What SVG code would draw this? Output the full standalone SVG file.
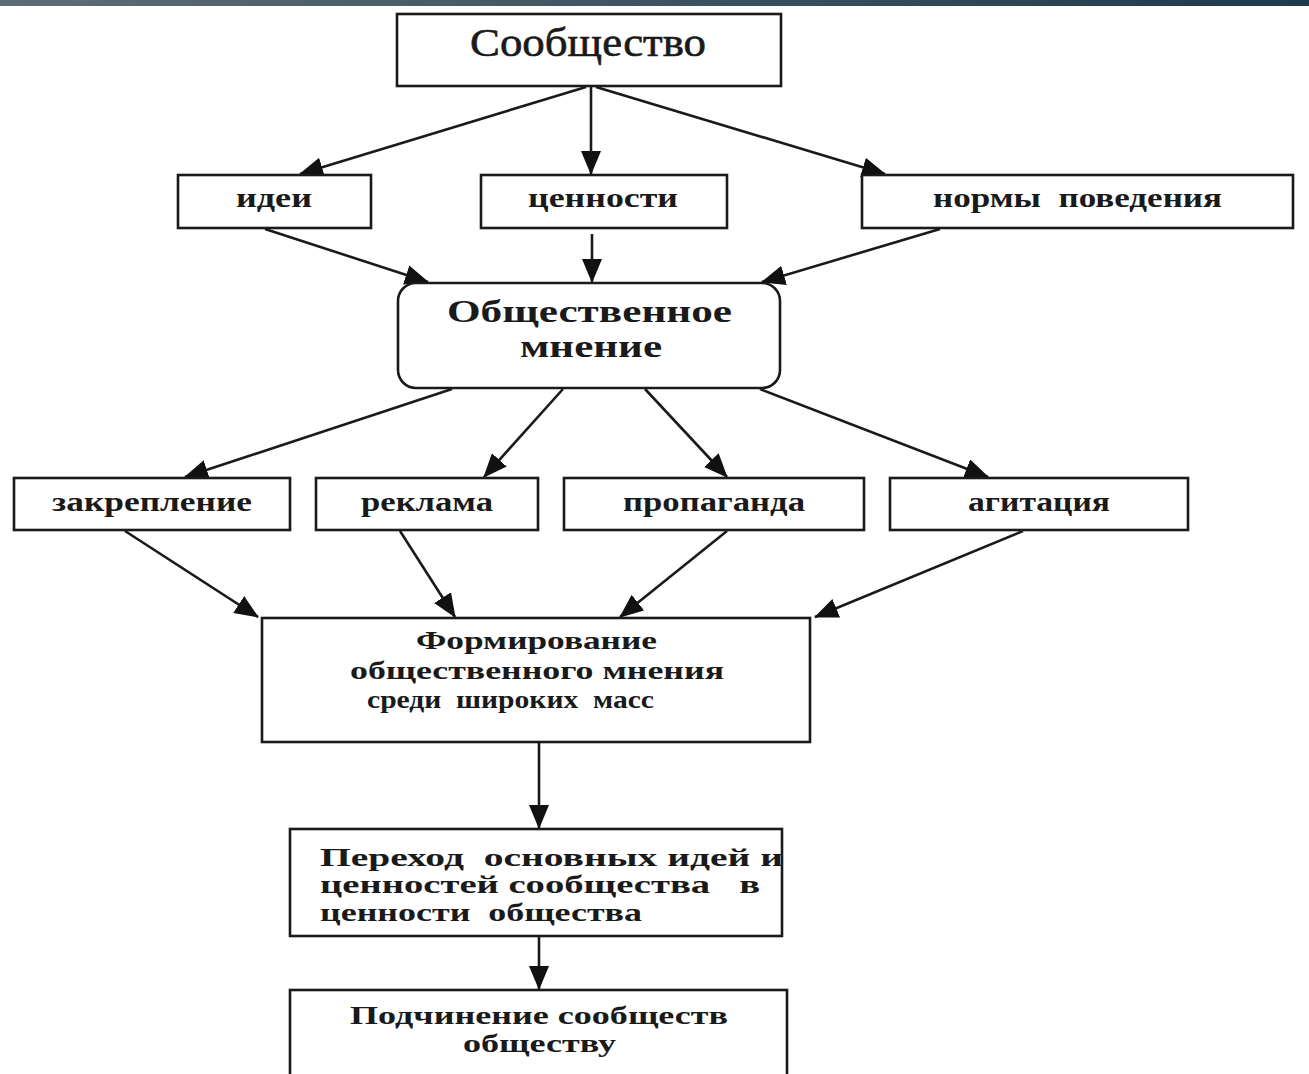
<svg xmlns="http://www.w3.org/2000/svg" width="1309" height="1074" viewBox="0 0 1309 1074">
<defs>
<linearGradient id="bar" x1="0" y1="0" x2="1" y2="0">
<stop offset="0" stop-color="#5d6d78"/>
<stop offset="1" stop-color="#1d3a4b"/>
</linearGradient>
<marker id="ah" markerUnits="userSpaceOnUse" markerWidth="24" markerHeight="20" viewBox="0 0 24 20" refX="23" refY="10" orient="auto">
<path d="M0,0 L24,10 L0,20 Z" fill="#111"/>
</marker>
<style>
.box{fill:#fff;stroke:#1a1a1a;stroke-width:2.6}
.t{fill:#1a1a1a;white-space:pre}
.c{stroke:#1a1a1a;stroke-width:2.6;fill:none;marker-end:url(#ah)}
</style>
</defs>
<rect x="0" y="0" width="1309" height="1074" fill="#fff"/>
<rect x="0" y="0" width="1309" height="6" fill="url(#bar)"/>

<g id="connectors">
<line class="c" x1="586" y1="87" x2="300" y2="174"/>
<line class="c" x1="591" y1="87" x2="591" y2="174"/>
<line class="c" x1="596" y1="87" x2="885" y2="174"/>
<line class="c" x1="265" y1="229" x2="428" y2="282"/>
<line class="c" x1="592" y1="234" x2="592" y2="282"/>
<line class="c" x1="940" y1="229" x2="762" y2="282"/>
<line class="c" x1="452" y1="389" x2="185" y2="477"/>
<line class="c" x1="563" y1="389" x2="484" y2="477"/>
<line class="c" x1="645" y1="389" x2="727" y2="477"/>
<line class="c" x1="760" y1="389" x2="988" y2="477"/>
<line class="c" x1="125" y1="531" x2="258" y2="617"/>
<line class="c" x1="400" y1="531" x2="455" y2="617"/>
<line class="c" x1="727" y1="531" x2="620" y2="617"/>
<line class="c" x1="1023" y1="531" x2="815" y2="617"/>
<line class="c" x1="539" y1="743" x2="539" y2="828"/>
<line class="c" x1="539" y1="937" x2="539" y2="989"/>
</g>

<g id="nodes" font-family="Liberation Serif, Times New Roman, serif" font-weight="bold">
<g id="n-soobshchestvo">
<rect class="box" x="397" y="14" width="384" height="72"/>
<text class="t" x="470" y="56" font-size="40" font-weight="normal" stroke="#1a1a1a" stroke-width="0.6" textLength="236" lengthAdjust="spacingAndGlyphs">Сообщество</text>
</g>
<g id="n-idei">
<rect class="box" x="178" y="175" width="193" height="53"/>
<text class="t" x="236" y="207" font-size="28" textLength="76" lengthAdjust="spacingAndGlyphs">идеи</text>
</g>
<g id="n-tsennosti">
<rect class="box" x="481" y="175" width="246" height="53"/>
<text class="t" x="528" y="207" font-size="28" textLength="150" lengthAdjust="spacingAndGlyphs">ценности</text>
</g>
<g id="n-normy">
<rect class="box" x="862" y="175" width="431" height="53"/>
<text class="t" x="933" y="207" font-size="28" textLength="289" lengthAdjust="spacingAndGlyphs" xml:space="preserve">нормы  поведения</text>
</g>
<g id="n-obshch-mnenie">
<rect class="box" x="398" y="283" width="382" height="105" rx="18" ry="18"/>
<text class="t" x="447" y="322" font-size="31" textLength="285" lengthAdjust="spacingAndGlyphs">Общественное</text>
<text class="t" x="520" y="357" font-size="31" textLength="142" lengthAdjust="spacingAndGlyphs">мнение</text>
</g>
<g id="n-zakreplenie">
<rect class="box" x="14" y="478" width="276" height="52"/>
<text class="t" x="52" y="511" font-size="28" textLength="200" lengthAdjust="spacingAndGlyphs">закрепление</text>
</g>
<g id="n-reklama">
<rect class="box" x="316" y="478" width="222" height="52"/>
<text class="t" x="361" y="511" font-size="28" textLength="132" lengthAdjust="spacingAndGlyphs">реклама</text>
</g>
<g id="n-propaganda">
<rect class="box" x="564" y="478" width="300" height="52"/>
<text class="t" x="623" y="511" font-size="28" textLength="182" lengthAdjust="spacingAndGlyphs">пропаганда</text>
</g>
<g id="n-agitatsiya">
<rect class="box" x="890" y="478" width="298" height="52"/>
<text class="t" x="968" y="511" font-size="28" textLength="142" lengthAdjust="spacingAndGlyphs">агитация</text>
</g>
<g id="n-formirovanie">
<rect class="box" x="262" y="618" width="548" height="124"/>
<text class="t" x="416" y="649" font-size="26" textLength="241" lengthAdjust="spacingAndGlyphs">Формирование</text>
<text class="t" x="350" y="679" font-size="26" textLength="374" lengthAdjust="spacingAndGlyphs">общественного мнения</text>
<text class="t" x="367" y="708" font-size="26" textLength="287" lengthAdjust="spacingAndGlyphs" xml:space="preserve">среди  широких  масс</text>
</g>
<g id="n-perekhod">
<rect class="box" x="290" y="829" width="492" height="107"/>
<text class="t" x="320" y="866" font-size="25" textLength="463" lengthAdjust="spacingAndGlyphs" xml:space="preserve">Переход  основных идей и</text>
<text class="t" x="320" y="893" font-size="25" textLength="440" lengthAdjust="spacingAndGlyphs" xml:space="preserve">ценностей сообщества   в</text>
<text class="t" x="320" y="921" font-size="25" textLength="322" lengthAdjust="spacingAndGlyphs" xml:space="preserve">ценности  общества</text>
</g>
<g id="n-podchinenie">
<rect class="box" x="290" y="990" width="497" height="90"/>
<text class="t" x="350" y="1024" font-size="26" textLength="378" lengthAdjust="spacingAndGlyphs">Подчинение сообществ</text>
<text class="t" x="463" y="1052" font-size="26" textLength="153" lengthAdjust="spacingAndGlyphs">обществу</text>
</g>
</g>
</svg>
